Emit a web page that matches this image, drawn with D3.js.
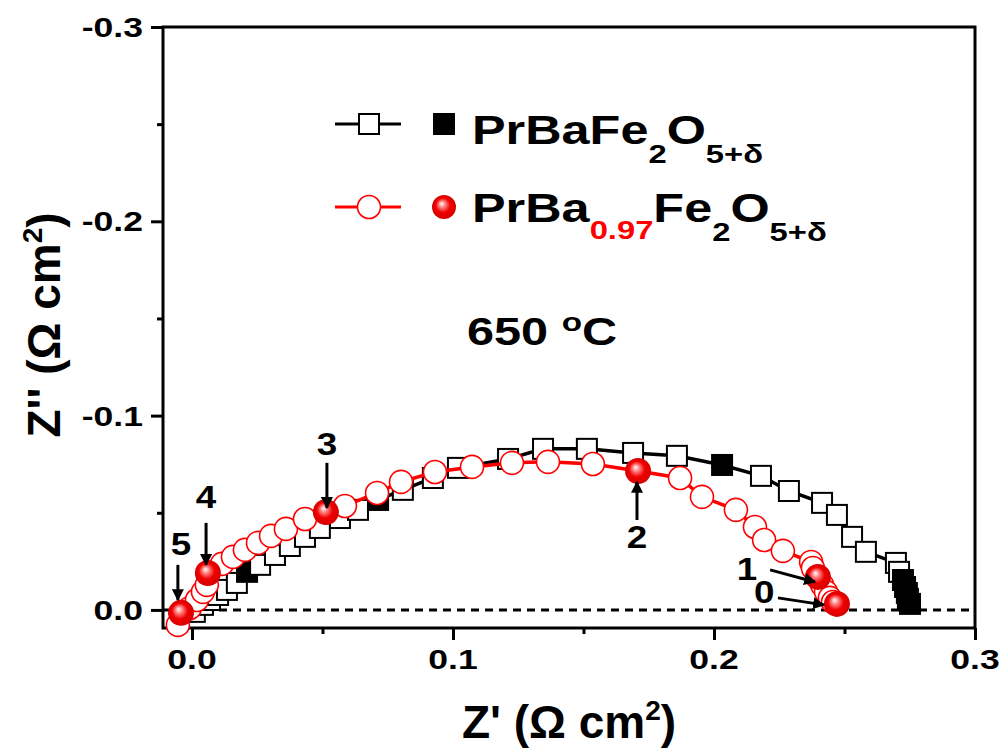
<!DOCTYPE html>
<html lang="en">
<head>
<meta charset="UTF-8">
<title>Nyquist plot 650 C</title>
<script src="https://d3js.org/d3.v7.min.js"></script>
<style>
  body { margin: 0; background: #fff; }
  svg { display: block; }
  text { font-family: "Liberation Sans", Arial, sans-serif; font-weight: bold; fill: #000; }
</style>
</head>
<body>
<svg width="1006" height="756"></svg>
<script>
// PrBaFe2O5+d (black squares)
const pbfRe = [0.0011,0.0042,0.0069,0.0100,0.0134,0.0172,0.0211,0.0261,0.0318,0.0375,0.0433,0.0490,0.0567,0.0636,0.0713,0.0808,0.0923,0.1019,0.1211,0.1345,0.1513,0.1690,0.1858,0.2031,0.2180,0.2287,0.2414,0.2471,0.2529,0.2582,0.2697,0.2709,0.2724,0.2732,0.2739,0.2743,0.2751];
const pbfIm = [0.0010,-0.0026,-0.0051,-0.0077,-0.0103,-0.0139,-0.0196,-0.0232,-0.0283,-0.0329,-0.0376,-0.0422,-0.0473,-0.0515,-0.0566,-0.0618,-0.0679,-0.0731,-0.0777,-0.0829,-0.0829,-0.0808,-0.0793,-0.0746,-0.0690,-0.0612,-0.0551,-0.0489,-0.0376,-0.0299,-0.0242,-0.0196,-0.0154,-0.0118,-0.0087,-0.0057,-0.0031];
const pbfFilled = [6, 14, 23, 32, 33, 34, 35, 36];

// PrBa0.97Fe2O5+d (red circles)
const pb97Re = [-0.0054,-0.0042,-0.0008,0.0019,0.0042,0.0057,0.0061,0.0115,0.0157,0.0203,0.0253,0.0303,0.0360,0.0433,0.0513,0.0586,0.0709,0.0801,0.0931,0.1073,0.1226,0.1364,0.1536,0.1709,0.1870,0.1954,0.2084,0.2157,0.2192,0.2264,0.2372,0.2379,0.2398,0.2414,0.2429,0.2444,0.2456,0.2471];
const pb97Im = [0.0077,0.0015,-0.0010,-0.0051,-0.0093,-0.0129,-0.0190,-0.0237,-0.0273,-0.0309,-0.0345,-0.0381,-0.0417,-0.0468,-0.0504,-0.0535,-0.0602,-0.0659,-0.0710,-0.0736,-0.0757,-0.0762,-0.0751,-0.0715,-0.0679,-0.0582,-0.0515,-0.0427,-0.0360,-0.0304,-0.0247,-0.0216,-0.0170,-0.0129,-0.0093,-0.0062,-0.0041,-0.0031];
const pb97Filled = [1, 6, 14, 23, 32, 37];

const xTicks = [0.0, 0.1, 0.2, 0.3];
const yTicks = [-0.3, -0.2, -0.1, 0.0];
const xMinor = [0.05, 0.15, 0.25];
const yMinor = [-0.25, -0.15, -0.05];

// frequency decade labels: label, arrow tail/tip, label pos
const decLabels = ["5", "4", "3", "2", "1", "0"];
const decArrows = [
  [-0.0054, -0.0232, -0.0054, -0.0051],
  [0.0054, -0.0448, 0.0054, -0.0232],
  [0.0517, -0.0757, 0.0517, -0.0525],
  [0.1705, -0.0463, 0.1705, -0.0659],
  [0.2215, -0.0206, 0.2387, -0.0144],
  [0.2245, -0.0062, 0.2421, -0.0026]
];
const decLabelPos = [
  [-0.0042, -0.0283], [0.0054, -0.0525], [0.0517, -0.0798],
  [0.1705, -0.0319], [0.2126, -0.0154], [0.2192, -0.0036]
];

const svg = d3.select("svg");
const x = d3.scaleLinear().domain([-0.0111, 0.3]).range([163, 975]);
const y = d3.scaleLinear().domain([0.0093, -0.3]).range([628, 27]);
const fmt = v => d3.format(".1f")(v).replace("\u2212", "-");

const defs = svg.append("defs");
const grad = defs.append("radialGradient").attr("id", "ball")
  .attr("cx", "50%").attr("cy", "50%").attr("r", "55%")
  .attr("fx", "40%").attr("fy", "35%");
grad.append("stop").attr("offset", "0%").attr("stop-color", "#ffffff");
grad.append("stop").attr("offset", "25%").attr("stop-color", "#ff8080");
grad.append("stop").attr("offset", "55%").attr("stop-color", "#f00000");
grad.append("stop").attr("offset", "100%").attr("stop-color", "#d00000");

defs.append("marker").attr("id", "arrow")
  .attr("viewBox", "0 0 10 10").attr("refX", 9).attr("refY", 5)
  .attr("markerWidth", 4).attr("markerHeight", 4)
  .attr("markerUnits", "strokeWidth")
  .attr("orient", "auto")
  .append("path").attr("d", "M0,0 L10,5 L0,10 Z").attr("fill", "#000");

// stretched text helper (the original text is wide)
function wideText(parent, tx, ty, sx, size, anchor) {
  return parent.append("g")
    .attr("transform", `translate(${tx},${ty}) scale(${sx},1)`)
    .append("text")
    .attr("font-size", size)
    .attr("text-anchor", anchor || "start");
}

// zero line
svg.append("line")
  .attr("x1", x.range()[0]).attr("x2", x.range()[1])
  .attr("y1", y(0)).attr("y2", y(0))
  .attr("stroke", "#000").attr("stroke-width", 3)
  .attr("stroke-dasharray", "8,6");

// axes
const xAxis = svg.append("g").attr("transform", `translate(0,628)`)
  .call(d3.axisBottom(x).tickValues(xTicks).tickSize(12).tickFormat(""));
const xAxisMinor = svg.append("g").attr("transform", `translate(0,628)`)
  .call(d3.axisBottom(x).tickValues(xMinor).tickSize(6).tickFormat(""));
const yAxis = svg.append("g").attr("transform", `translate(163,0)`)
  .call(d3.axisLeft(y).tickValues(yTicks).tickSize(12).tickFormat(""));
const yAxisMinor = svg.append("g").attr("transform", `translate(163,0)`)
  .call(d3.axisLeft(y).tickValues(yMinor).tickSize(6).tickFormat(""));
[xAxis, xAxisMinor, yAxis, yAxisMinor].forEach(a => {
  a.select(".domain").remove();
  a.selectAll(".tick line").attr("stroke", "#000").attr("stroke-width", 3);
});

svg.append("rect")
  .attr("x", 163).attr("y", 27).attr("width", 975 - 163).attr("height", 628 - 27)
  .attr("fill", "none").attr("stroke", "#000").attr("stroke-width", 3);

xTicks.forEach(v => {
  wideText(svg, x(v), 669, 1.27, 28, "middle").text(fmt(v));
});
yTicks.forEach(v => {
  wideText(svg, 143, y(v) + 10, 1.27, 28, "end").text(fmt(v));
});

// axis titles
const xt = svg.append("text").attr("x", 569).attr("y", 738)
  .attr("text-anchor", "middle").attr("font-size", 46);
xt.append("tspan").text("Z' (\u03A9 cm");
xt.append("tspan").attr("font-size", 28).attr("dy", -18).text("2");
xt.append("tspan").attr("dy", 18).text(")");

const yt = svg.append("text")
  .attr("transform", "translate(60,325) rotate(-90)")
  .attr("text-anchor", "middle").attr("font-size", 46);
yt.append("tspan").text("Z'' (\u03A9 cm");
yt.append("tspan").attr("font-size", 28).attr("dy", -18).text("2");
yt.append("tspan").attr("dy", 18).text(")");

// series
function drawSeries(re, im, filled, color, shape) {
  const pts = re.map((d, i) => [x(d), y(im[i])]);
  svg.append("path")
    .attr("d", d3.line()(pts))
    .attr("fill", "none").attr("stroke", color).attr("stroke-width", 3.5);
  const g = svg.append("g");
  pts.forEach((p, i) => {
    const f = filled.includes(i);
    if (shape === "square") {
      g.append("rect")
        .attr("x", p[0] - 10).attr("y", p[1] - 10).attr("width", 20).attr("height", 20)
        .attr("fill", f ? "#000" : "#fff").attr("stroke", "#000").attr("stroke-width", 2);
    } else if (!f) {
      g.append("circle").attr("cx", p[0]).attr("cy", p[1]).attr("r", 11.5)
        .attr("fill", "#fff").attr("stroke", color).attr("stroke-width", 1.6);
    }
  });
  if (shape === "circle") {
    filled.forEach(i => {
      g.append("circle").attr("cx", pts[i][0]).attr("cy", pts[i][1]).attr("r", 13)
        .attr("fill", "url(#ball)");
    });
  }
}
drawSeries(pbfRe, pbfIm, pbfFilled, "#000", "square");
drawSeries(pb97Re, pb97Im, pb97Filled, "#ff0000", "circle");

// decade arrows and labels
decArrows.forEach((a, i) => {
  svg.append("line")
    .attr("x1", x(a[0])).attr("y1", y(a[1]))
    .attr("x2", x(a[2])).attr("y2", y(a[3]))
    .attr("stroke", "#000").attr("stroke-width", 3)
    .attr("marker-end", "url(#arrow)");
  wideText(svg, x(decLabelPos[i][0]), y(decLabelPos[i][1]), 1.15, 32, "middle")
    .text(decLabels[i]);
});

// legend
const lg = svg.append("g");
lg.append("line").attr("x1", 335).attr("x2", 401).attr("y1", 124).attr("y2", 124)
  .attr("stroke", "#000").attr("stroke-width", 3);
lg.append("rect").attr("x", 359).attr("y", 114).attr("width", 20).attr("height", 20)
  .attr("fill", "#fff").attr("stroke", "#000").attr("stroke-width", 2);
lg.append("rect").attr("x", 433).attr("y", 113).attr("width", 22).attr("height", 22)
  .attr("fill", "#000");
lg.append("line").attr("x1", 335).attr("x2", 401).attr("y1", 207).attr("y2", 207)
  .attr("stroke", "#ff0000").attr("stroke-width", 3);
lg.append("circle").attr("cx", 369).attr("cy", 207).attr("r", 11.5)
  .attr("fill", "#fff").attr("stroke", "#ff0000").attr("stroke-width", 1.6);
lg.append("circle").attr("cx", 444).attr("cy", 207).attr("r", 12)
  .attr("fill", "url(#ball)");

const t1 = wideText(lg, 472, 144, 1.26, 40);
t1.append("tspan").text("PrBaFe");
t1.append("tspan").attr("font-size", 26).attr("dy", 19).text("2");
t1.append("tspan").attr("dy", -19).text("O");
t1.append("tspan").attr("font-size", 26).attr("dy", 19).text("5+\u03B4");

const t2 = wideText(lg, 472, 222, 1.26, 40);
t2.append("tspan").text("PrBa");
t2.append("tspan").attr("font-size", 26).attr("dy", 17).attr("fill", "#ff0000").text("0.97");
t2.append("tspan").attr("dy", -17).text("Fe");
t2.append("tspan").attr("font-size", 26).attr("dy", 19).text("2");
t2.append("tspan").attr("dy", -19).text("O");
t2.append("tspan").attr("font-size", 26).attr("dy", 19).text("5+\u03B4");

// temperature
const tt = wideText(svg, 467, 345, 1.28, 38);
tt.append("tspan").text("650 ");
tt.append("tspan").attr("font-size", 26).attr("dy", -14).text("o");
tt.append("tspan").attr("dy", 14).text("C");
</script>
</body>
</html>
